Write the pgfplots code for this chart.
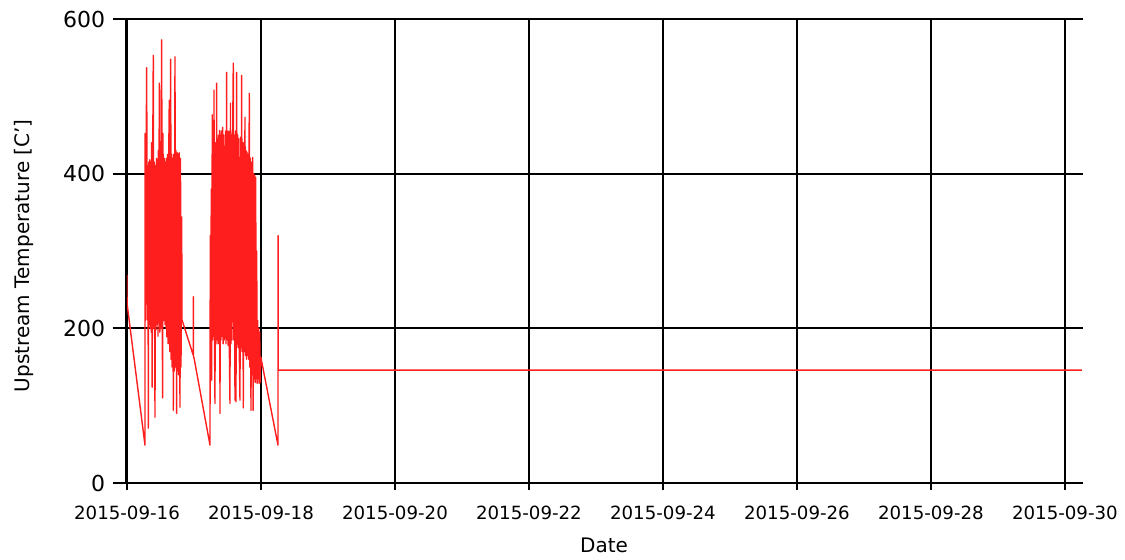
\documentclass[border=0pt]{standalone}
\usepackage{fontspec}
\setmainfont{DejaVu Sans}
\usepackage{pgfplots}
\pgfplotsset{compat=1.18}
\definecolor{linered}{RGB}{255,30,30}
\begin{document}
\begin{tikzpicture}
\begin{axis}[
  at={(0,0)}, anchor=south west,
  scale only axis, width=478pt, height=232pt,
  xmin=0, xmax=14.27, ymin=0, ymax=600,
  axis lines=left,
  axis line style={-},
  x axis line style={black, line width=1pt},
  y axis line style={black, line width=1.5pt},
  xtick={0,2,4,6,8,10,12,14},
  xticklabels={2015-09-16,2015-09-18,2015-09-20,2015-09-22,2015-09-24,2015-09-26,2015-09-28,2015-09-30},
  ytick={0,200,400,600},
  tick align=outside,
  xtick style={black, line width=1pt, /pgfplots/major tick length=3.5pt},
  ytick style={black, line width=1pt, /pgfplots/major tick length=7pt},
  grid=major,
  major grid style={black, line width=1pt},
  /pgf/number format/assume math mode=true,
  xticklabel style={font=\fontsize{9.1}{11}\selectfont, anchor=base, inner sep=0pt, yshift=-14pt},
  yticklabel style={font=\fontsize{11}{13}\selectfont, anchor=east, inner sep=0pt, xshift=-6.5pt},
  xlabel={Date}, ylabel={Upstream Temperature [C']},
  label style={font=\fontsize{9}{11}\selectfont},
  every axis x label/.style={at={(axis description cs:0.499,-0.1487)}, anchor=base},
  every axis y label/.style={at={(axis description cs:-0.1015,0.49)}, anchor=base, rotate=90},
]
\addplot[linered, line width=0.7pt, line join=round] table {
x y
0.0000 269
0.0010 232
0.2687 49
0.2700 452
0.2761 210
0.2836 400
0.2940 537
0.3030 211
0.3134 410
0.3179 71
0.3254 415
0.3328 205
0.3403 418
0.3478 200
0.3552 412
0.3627 195
0.3687 440
0.3761 124
0.3836 420
0.3925 553
0.4000 200
0.4075 415
0.4179 85
0.4254 410
0.4328 198
0.4403 420
0.4478 205
0.4552 418
0.4627 190
0.4687 430
0.4746 207
0.4821 517
0.4896 195
0.4970 425
0.5045 200
0.5104 440
0.5179 573
0.5254 210
0.5328 110
0.5373 452
0.5448 210
0.5522 240
0.5597 420
0.5672 205
0.5746 415
0.5821 200
0.5925 420
0.5950 189
0.6000 195
0.6075 425
0.6149 180
0.6224 420
0.6313 495
0.6388 170
0.6463 422
0.6522 548
0.6597 160
0.6672 425
0.6746 150
0.6821 420
0.6910 94
0.6985 425
0.7060 145
0.7164 551
0.7239 150
0.7313 430
0.7418 90
0.7493 427
0.7567 145
0.7642 425
0.7716 140
0.7791 427
0.7910 98
0.7985 420
0.8060 150
0.8164 344
0.8209 211
0.9896 165
0.9910 241
0.9925 163
1.0000 162
1.2388 49
1.2433 320
1.2507 190
1.2582 380
1.2642 133
1.2731 476
1.2806 185
1.2881 430
1.2940 190
1.2985 508
1.3060 185
1.3134 103
1.3209 440
1.3284 180
1.3388 517
1.3463 185
1.3537 445
1.3612 180
1.3687 450
1.3761 190
1.3821 456
1.3881 90
1.3955 450
1.4030 185
1.4104 455
1.4179 190
1.4284 460
1.4358 180
1.4433 450
1.4507 185
1.4627 200
1.4701 455
1.4776 180
1.4881 531
1.4955 185
1.5030 450
1.5104 178
1.5179 455
1.5254 190
1.5373 103
1.5448 491
1.5522 180
1.5597 450
1.5672 185
1.5776 455
1.5866 543
1.5940 185
1.6015 450
1.6119 107
1.6194 455
1.6269 105
1.6373 531
1.6448 180
1.6522 450
1.6597 175
1.6672 445
1.6746 180
1.6866 107
1.6940 447
1.7015 175
1.7119 527
1.7194 170
1.7269 440
1.7358 97
1.7433 440
1.7507 170
1.7612 473
1.7687 165
1.7761 430
1.7836 160
1.7910 428
1.7985 165
1.8060 425
1.8134 160
1.8254 504
1.8328 150
1.8403 420
1.8507 94
1.8612 415
1.8687 140
1.8761 421
1.8836 94
1.8910 400
1.8985 135
1.9060 398
1.9134 130
1.9209 395
1.9284 135
1.9358 300
1.9433 129
1.9507 210
1.9582 135
1.9657 200
1.9731 129
1.9806 195
1.9896 130
1.9970 163
2.2537 49
2.2552 320
2.2582 146
14.2537 146
};
\end{axis}
\pgfresetboundingbox
\path[use as bounding box] (-63.5pt,-38pt) rectangle (499pt,241.5pt);
\end{tikzpicture}
\end{document}
